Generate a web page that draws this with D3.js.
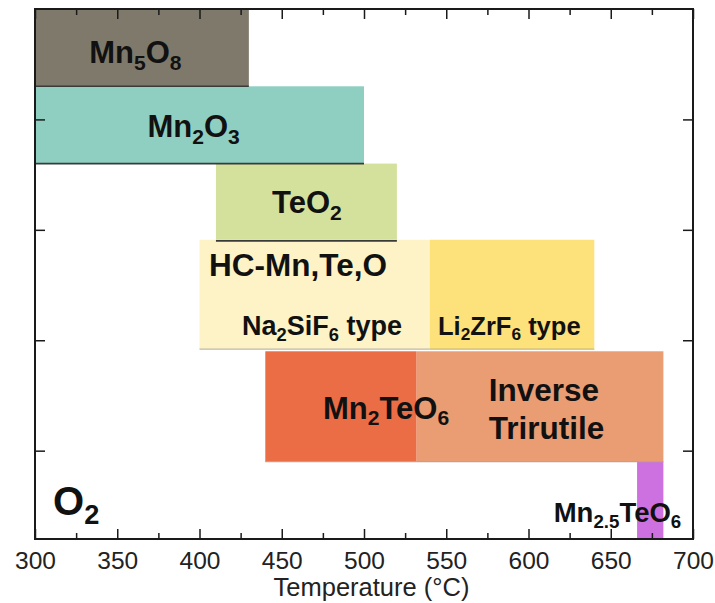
<!DOCTYPE html>
<html>
<head>
<meta charset="utf-8">
<script src="https://cdn.jsdelivr.net/npm/d3@7"></script>
<style>
  html, body { margin: 0; padding: 0; background: #ffffff; }
  svg { display: block; }
  text { font-family: "Liberation Sans", Arial, sans-serif; }
</style>
</head>
<body>
<svg id="chart" width="715" height="603"></svg>
<script>
// ---------------- data ----------------
const phases   = ["Mn5O8", "Mn2O3", "TeO2", "Na2SiF6 type", "Li2ZrF6 type", "Mn2TeO6", "Inverse Trirutile", "Mn2.5TeO6"];
const tStart   = [300, 300, 410, 400, 540, 440, 532, 666];   // °C
const tEnd     = [430, 500, 520, 540, 640, 532, 682, 682];   // °C
const rowLow   = [41, 34, 27, 17.2, 17.2, 7, 7, 0];
const rowHigh  = [48, 41, 34, 27.1, 27.1, 17, 17, 7];
const colors   = ["#7e796b", "#8ecfc2", "#d4e19c", "#fef3c7", "#fde27c", "#ea6d46", "#ea9c72", "#cd70e0"];
const xMajorTicks = [300, 350, 400, 450, 500, 550, 600, 650, 700];
const xMinorTicks = [325, 375, 425, 475, 525, 575, 625, 675];
const yTicks = [8, 18, 28, 38];
const xTitle = "Temperature (°C)";

// ---------------- layout ----------------
const svg = d3.select("#chart");
const x = d3.scaleLinear().domain([300, 700]).range([35, 693]);
const y = d3.scaleLinear().domain([0, 48]).range([539, 9]);

// bars
const bottomEdge = ["#3a3a3a", "#3a3a3a", "#3a3a3a", "#bdb9a8", "#c9b87a", "#b9a397", "#b9a397", null];
const bars = phases.map((p, i) => ({p, i, t0: tStart[i], t1: tEnd[i], lo: rowLow[i], hi: rowHigh[i]}));
svg.append("g").selectAll("rect").data(bars).join("rect")
  .attr("x", d => x(d.t0))
  .attr("y", d => y(d.hi))
  .attr("width", d => x(d.t1) - x(d.t0))
  .attr("height", d => y(d.lo) - y(d.hi))
  .attr("fill", d => colors[d.i]);
svg.append("g").selectAll("line").data(bars.filter(d => bottomEdge[d.i])).join("line")
  .attr("x1", d => x(d.t0)).attr("x2", d => x(d.t1))
  .attr("y1", d => y(d.lo)).attr("y2", d => y(d.lo))
  .attr("stroke", d => bottomEdge[d.i])
  .attr("stroke-width", d => d.i < 3 ? 1.6 : 1.2);

// labels (rich text with subscripts)
const labels = [
  {parts: [["Mn"],["5",1],["O"],["8",1]], t: 361, v: 43.1, size: 31, anchor: "middle"},
  {parts: [["Mn"],["2",1],["O"],["3",1]], t: 396.4, v: 36.4, size: 31, anchor: "middle"},
  {parts: [["TeO"],["2",1]], t: 465.3, v: 29.5, size: 31, anchor: "middle"},
  {parts: [["HC-Mn,Te,O"]], t: 405.8, v: 23.8, size: 31.5, anchor: "start"},
  {parts: [["Na"],["2",1],["SiF"],["6",1],[" type"]], t: 425.8, v: 18.5, size: 27, anchor: "start"},
  {parts: [["Li"],["2",1],["ZrF"],["6",1],[" type"]], t: 545, v: 18.5, size: 25.5, anchor: "start"},
  {parts: [["Mn"],["2",1],["TeO"],["6",1]], t: 513.4, v: 10.9, size: 31, anchor: "middle"},
  {parts: [["Inverse"]], t: 609.4, v: 12.5, size: 31.5, anchor: "middle"},
  {parts: [["Trirutile"]], t: 611, v: 9.06, size: 31.5, anchor: "middle"},
  {parts: [["Mn"],["2.5",1],["TeO"],["6",1]], t: 654.1, v: 1.54, size: 27.5, anchor: "middle"},
  {parts: [["O"],["2",1]], t: 311, v: 2.17, size: 40, anchor: "start"}
];
const lg = svg.append("g");
labels.forEach(L => {
  const txt = lg.append("text")
    .attr("x", x(L.t)).attr("y", y(L.v))
    .attr("text-anchor", L.anchor)
    .attr("font-weight", "bold")
    .attr("font-size", L.size)
    .attr("fill", "#111");
  const shift = L.size * 0.22;
  let inSub = false;
  L.parts.forEach(([s, sub]) => {
    const ts = txt.append("tspan").text(s);
    if (sub) {
      ts.attr("font-size", L.size * 0.68).attr("dy", inSub ? 0 : shift);
      inSub = true;
    } else {
      ts.attr("dy", inSub ? -shift : 0);
      inSub = false;
    }
  });
});

// axes (inward ticks)
const axStroke = "#1a1a1a";
function styleAxis(g) {
  g.select(".domain").remove();
  g.selectAll(".tick line").attr("stroke", axStroke).attr("stroke-width", 1.5);
}
svg.append("g").attr("transform", "translate(0,539)")
  .call(d3.axisBottom(x).tickValues(xMajorTicks).tickSize(-10).tickPadding(13).tickFormat(d3.format("d")))
  .call(styleAxis)
  .call(g => g.selectAll(".tick text").attr("font-size", 24.5).attr("fill", "#222")
    .attr("font-family", "'Liberation Sans', Arial, sans-serif"));
svg.append("g").attr("transform", "translate(0,539)")
  .call(d3.axisBottom(x).tickValues(xMinorTicks).tickSize(-6).tickFormat(""))
  .call(styleAxis);
svg.append("g").attr("transform", "translate(0,9)")
  .call(d3.axisTop(x).tickValues(xMajorTicks).tickSize(-10).tickFormat(""))
  .call(styleAxis);
svg.append("g").attr("transform", "translate(0,9)")
  .call(d3.axisTop(x).tickValues(xMinorTicks).tickSize(-6).tickFormat(""))
  .call(styleAxis);
svg.append("g").attr("transform", "translate(35,0)")
  .call(d3.axisLeft(y).tickValues(yTicks).tickSize(-10).tickFormat(""))
  .call(styleAxis);
svg.append("g").attr("transform", "translate(693,0)")
  .call(d3.axisRight(y).tickValues(yTicks).tickSize(-10).tickFormat(""))
  .call(styleAxis);

// frame
svg.append("rect")
  .attr("x", x(300)).attr("y", y(48))
  .attr("width", x(700) - x(300)).attr("height", y(0) - y(48))
  .attr("fill", "none").attr("stroke", axStroke).attr("stroke-width", 2);

// axis title
svg.append("text")
  .attr("x", 371.5).attr("y", 596)
  .attr("text-anchor", "middle")
  .attr("font-size", 25.5).attr("fill", "#222")
  .text(xTitle);
</script>
</body>
</html>
